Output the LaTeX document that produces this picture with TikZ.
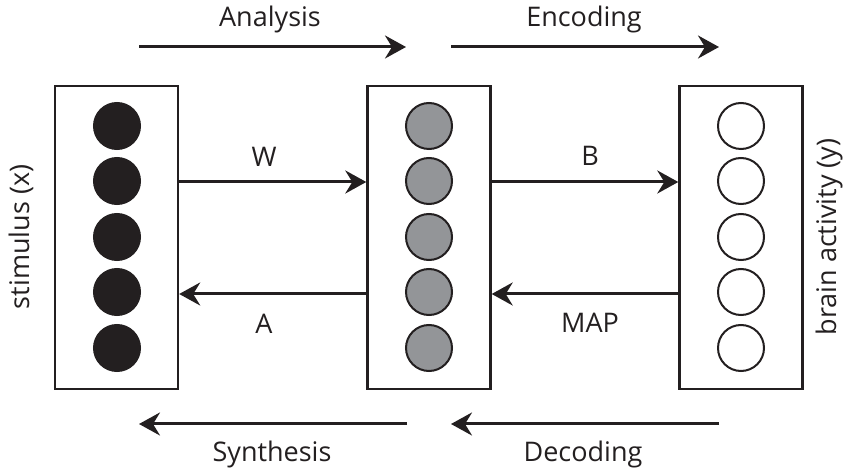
\documentclass[tikz,border=0pt]{standalone}
\usepackage{fontspec}
\setmainfont{Open Sans}
\usetikzlibrary{arrows.meta}
\definecolor{ink}{HTML}{231F20}
\definecolor{midgray}{HTML}{939598}
\begin{document}
\begin{tikzpicture}[x=1pt,y=-1pt,
  box/.style={draw=ink, line width=2.4pt, fill=white, minimum width=123pt, minimum height=303pt, inner sep=0pt},
  unit/.style={circle, draw=ink, line width=2pt, minimum size=46pt, inner sep=0pt},
  blackunit/.style={unit, fill=ink},
  grayunit/.style={unit, fill=midgray},
  whiteunit/.style={unit, fill=white},
  conn/.style={draw=ink, line width=3pt, -{Stealth[length=21pt, width=23pt, inset=7pt]}},
  lab/.style={text=ink, font=\fontsize{27}{32}\selectfont, inner sep=0pt}
]
\useasboundingbox (0,0) rectangle (847,470);

% boxes
\node[box] (lbox) at (116.5,237.5) {};
\node[box] (mbox) at (429,237.5) {};
\node[box] (rbox) at (741,237.5) {};

% units
\foreach \i/\y in {1/126,2/181,3/237,4/292,5/348}{
  \node[blackunit] (l\i) at (117,\y) {};
  \node[grayunit] (m\i) at (429,\y) {};
  \node[whiteunit] (r\i) at (741,\y) {};
}

% connectors between layers
\draw[conn] (lbox.east |- 0,182) coordinate (wS) -- (mbox.west |- wS);
\draw[conn] (mbox.west |- 0,294) coordinate (aS) -- (lbox.east |- aS);
\draw[conn] (mbox.east |- wS) -- (rbox.west |- wS);
\draw[conn] (rbox.west |- aS) -- (mbox.east |- aS);

\node[lab] (W) at (264,157) {W};
\node[lab] (A) at (264,324) {A};
\node[lab] (B) at (590,156) {B};
\node[lab] (MAP) at (590,323) {MAP};

% top arrows
\coordinate (an1) at (139,47);
\coordinate (an2) at (406,47);
\coordinate (en1) at (451,47);
\coordinate (en2) at (719,47);
\draw[conn] (an1) -- (an2);
\draw[conn] (en1) -- (en2);
\node[lab] (analysis) at (270,19) {Analysis};
\node[lab] (encoding) at (584,19) {Encoding};

% bottom arrows
\coordinate (sy1) at (407,424);
\coordinate (sy2) at (139,424);
\coordinate (de1) at (719,424);
\coordinate (de2) at (451,424);
\draw[conn] (sy1) -- (sy2);
\draw[conn] (de1) -- (de2);
\node[lab] (synthesis) at (272,454) {Synthesis};
\node[lab] (decoding) at (583,454) {Decoding};

% side labels
\node[lab, rotate=90] (stim) at (21,237) {stimulus (x)};
\node[lab, rotate=90] (brain) at (829,237) {brain activity (y)};
\end{tikzpicture}
\end{document}
